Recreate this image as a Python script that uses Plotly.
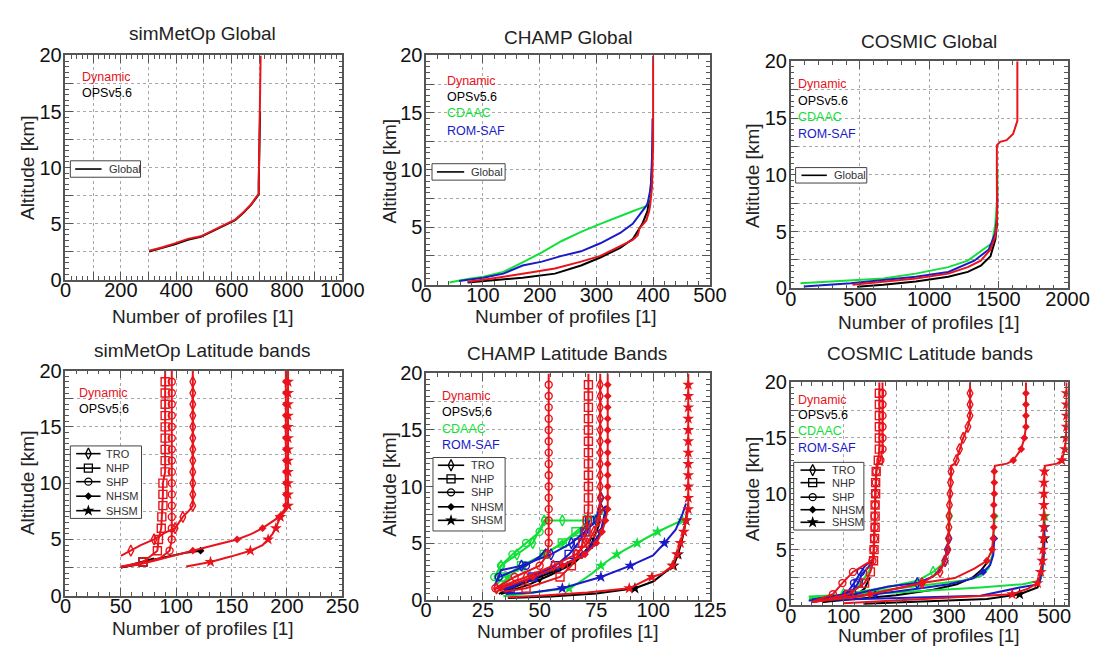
import plotly.graph_objects as go

W, H = 1113, 657
FONT = "Liberation Sans, Arial, Helvetica, sans-serif"
RED, BLACK, GREEN, BLUE = "#e8131b", "#000000", "#12e03a", "#1a1ac8"
AX = "#555555"

# ---------------- Panel 1: simMetOp Global ----------------
p1_red_x = [302, 348, 395, 442, 489, 513, 548, 583, 613, 642, 671, 689, 698, 698, 703, 705]
p1_red_y = [2.58, 2.87, 3.24, 3.64, 3.87, 4.15, 4.56, 5.0, 5.36, 6.0, 6.73, 7.36, 7.65, 8.45, 15.3, 20]
p1_blk_x = [302, 348, 395, 442, 489, 513, 548, 583, 613, 642, 671, 689, 698, 698, 703]
p1_blk_y = [2.5, 2.8, 3.15, 3.55, 3.82, 4.1, 4.5, 4.95, 5.3, 5.95, 6.7, 7.3, 7.6, 8.45, 15.0]

# ---------------- Panel 2: CHAMP Global ----------------
p2_grn_x = [41, 73, 101, 136, 170, 204, 239, 273, 307, 342, 364, 388, 394, 397]
p2_grn_y = [0.17, 0.48, 0.68, 1.1, 1.94, 2.8, 3.8, 4.6, 5.3, 6.0, 6.4, 6.85, 7.6, 9.0]
p2_blu_x = [58, 101, 136, 170, 204, 239, 273, 307, 342, 364, 381, 390, 396, 398, 399]
p2_blu_y = [0.31, 0.59, 0.95, 1.66, 2.0, 2.5, 2.9, 3.6, 4.5, 5.3, 6.4, 7.0, 8.5, 11, 14.5]
p2_blk_x = [73, 113, 170, 227, 273, 307, 342, 364, 381, 390, 395, 398]
p2_blk_y = [0.17, 0.33, 0.6, 0.95, 1.66, 2.36, 3.2, 3.96, 5.3, 6.4, 8.0, 10.0]
p2_red_x = [73, 113, 170, 227, 273, 307, 342, 364, 373, 376, 388, 393, 395, 398, 400, 400]
p2_red_y = [0.25, 0.5, 0.95, 1.4, 2.0, 2.5, 3.35, 3.9, 4.3, 4.9, 5.6, 6.4, 7.0, 8.5, 12, 20]

# ---------------- Panel 3: COSMIC Global ----------------
p3_grn_x = [70, 434, 669, 903, 1138, 1279, 1396, 1455, 1478, 1490, 1494]
p3_grn_y = [0.45, 0.74, 0.88, 1.3, 1.87, 2.44, 3.43, 4.0, 5.7, 7.7, 10.5]
p3_blu_x = [94, 434, 669, 903, 1138, 1326, 1431, 1478, 1490, 1492]
p3_blu_y = [0.17, 0.45, 0.74, 1.02, 1.45, 2.44, 3.43, 4.86, 6.3, 8.0]
p3_blk_x = [480, 669, 903, 1138, 1279, 1373, 1443, 1478, 1490, 1492]
p3_blk_y = [0.15, 0.31, 0.6, 1.02, 1.45, 2.0, 2.84, 4.3, 5.7, 9.0]
p3_red_x = [446, 669, 903, 1138, 1279, 1373, 1443, 1478, 1490, 1489, 1489, 1512, 1559, 1606, 1637, 1637]
p3_red_y = [0.31, 0.6, 0.88, 1.3, 1.87, 2.44, 3.43, 4.57, 6.0, 10, 12.6, 12.9, 13.05, 13.6, 14.75, 20]

# ---------------- Panel 4: simMetOp Latitude bands ----------------
p4_tro_red_x = [50, 59, 68, 80, 90, 99, 106, 112, 115, 115, 115, 115, 115, 115, 115, 115, 115, 115, 115, 115, 115]
p4_tro_red_y = [3.55, 4, 4.5, 5, 5.6, 6, 7, 7.6, 8, 9, 10, 11, 12, 13, 14, 15, 16, 17, 18, 19, 20]
p4_nhp_red_x = [50, 60, 70, 83, 84, 86.5, 87, 88, 88, 88, 90, 90, 90, 90, 90, 90, 90, 90, 90, 90]
p4_nhp_red_y = [2.57, 2.8, 3, 4, 5, 6, 7, 8, 9, 10, 11, 12, 13, 14, 15, 16, 17, 18, 19, 20]
p4_shp_red_x = [50, 70, 85, 94, 96, 96, 96, 96, 96, 96, 96, 96, 96, 96, 96, 96, 96, 96, 96, 96]
p4_shp_red_y = [2.57, 2.9, 3.3, 4, 5, 6, 7, 8, 9, 10, 11, 12, 13, 14, 15, 16, 17, 18, 19, 20]
p4_nhsm_red_x = [50, 65, 80, 95, 115, 135, 155, 168, 178, 186, 193, 198, 199, 199, 199, 199, 199, 199, 199, 199, 199, 199, 199, 199, 199]
p4_nhsm_red_y = [2.55, 2.75, 3.1, 3.5, 4, 4.5, 5, 5.5, 6, 6.5, 7, 7.7, 8, 9, 10, 11, 12, 13, 14, 15, 16, 17, 18, 19, 20]
p4_shsm_red_x = [109, 131, 150, 167, 178, 183, 187, 190, 194, 200, 201, 201, 201, 201, 201, 201, 201, 201, 201, 201, 201, 201, 201]
p4_shsm_red_y = [2.6, 3, 3.5, 4, 4.5, 5, 5.5, 6, 7, 7.7, 8, 9, 10, 11, 12, 13, 14, 15, 16, 17, 18, 19, 20]
p4_nhsm_blk_x = [50, 64, 75, 93, 110, 122]
p4_nhsm_blk_y = [2.5, 2.75, 3.1, 3.5, 3.85, 4]
p4_nhp_blk_x = [50, 62, 70, 80]
p4_nhp_blk_y = [2.5, 2.8, 3.0, 3.3]

# ---------------- Panel 5: CHAMP Latitude Bands ----------------
p5_tro_red_x = [30, 31, 44, 56, 66, 71, 74, 76, 76.7, 76.7, 76.7, 76.7, 76.7, 76.7, 76.7, 76.7, 76.7, 76.7, 76.7, 76.7, 76.7]
p5_tro_red_y = [0.8, 1, 2, 3, 4, 5, 6, 7, 8, 9, 10, 11, 12, 13, 14, 15, 16, 17, 18, 19, 20]
p5_nhp_red_x = [34, 44, 59, 64, 67, 69, 70.5, 71, 71.5, 71.5, 71.5, 71.5, 71.5, 71.5, 71.5, 71.5, 71.5, 71.5, 71.5, 71.5, 71.5]
p5_nhp_red_y = [0.7, 1, 2, 3, 4, 5, 6, 7, 8, 9, 10, 11, 12, 13, 14, 15, 16, 17, 18, 19, 20]
p5_shp_red_x = [30, 30.5, 39, 46, 50, 53.5, 54, 54, 54, 54, 54, 54, 54, 54, 54, 54, 54, 54, 54, 54, 54, 54]
p5_shp_red_y = [0.85, 1, 2, 2.6, 3, 4, 5, 6, 7, 8, 9, 10, 11, 12, 13, 14, 15, 16, 17, 18, 19, 20]
p5_nhsm_red_x = [31, 33, 47, 60, 70, 75, 77.5, 79, 80, 80, 80, 80, 80, 80, 80, 80, 80, 80, 80, 80, 80]
p5_nhsm_red_y = [0.7, 1, 2, 3, 4, 5, 6, 7, 8, 9, 10, 11, 12, 13, 14, 15, 16, 17, 18, 19, 20]
p5_shsm_red_x = [36, 50, 71, 86, 89.5, 99.5, 104, 108.5, 110.5, 112, 113.5, 114.5, 115.5, 115.5, 115.5, 115.5, 115.5, 115.5, 115.5, 115.5, 115.5, 115.5, 115.5, 115.5, 115.5]
p5_shsm_red_y = [0.2, 0.34, 0.63, 0.91, 1, 2, 2.3, 3, 4, 5, 6, 7, 8, 9, 10, 11, 12, 13, 14, 15, 16, 17, 18, 19, 20]
p5_shsm_blk_x = [36, 55, 75, 92, 100, 106, 109, 111, 113, 114.5, 115.5]
p5_shsm_blk_y = [0.15, 0.28, 0.55, 1.0, 1.6, 2.5, 3.0, 4.0, 5.5, 7.0, 8.5]
p5_tro_blk_x = [32, 40, 50, 60, 68, 73, 76, 77]
p5_tro_blk_y = [0.5, 1.2, 2.0, 2.8, 3.8, 5.0, 6.5, 8.0]
p5_nhsm_blk_x = [33, 45, 55, 65, 72, 77, 79.5]
p5_nhsm_blk_y = [0.5, 1.3, 2.2, 3.2, 4.5, 6.0, 8.0]
p5_tro_grn_x = [30, 33, 40, 47, 52, 60, 70, 76, 77]
p5_tro_grn_y = [1.8, 3, 4, 5, 7, 7, 7, 7.5, 9]
p5_shp_grn_x = [30, 33, 38, 44, 50, 52.5, 54]
p5_shp_grn_y = [2.0, 3, 4, 5, 6, 7, 7.2]
p5_nhp_grn_x = [31, 34, 42, 52, 60, 66, 70, 72, 73]
p5_nhp_grn_y = [1.3, 2, 3, 4, 5, 6, 6.6, 7, 7.2]
p5_nhsm_grn_x = [32, 36, 43, 52, 60, 66, 71, 75, 79]
p5_nhsm_grn_y = [1.1, 2, 3, 4, 5, 5.8, 6.4, 7, 8.2]
p5_shsm_grn_x = [34, 45, 58, 63, 68, 73, 77, 84, 93, 102, 110, 113]
p5_shsm_grn_y = [0.3, 0.6, 0.9, 1, 1.6, 2.3, 3, 4, 5, 6, 6.75, 7.0]
p5_tro_blu_x = [31, 33, 42, 55, 64, 70, 75, 77]
p5_tro_blu_y = [1.6, 2.6, 3, 4, 5, 6, 7, 9]
p5_shp_blu_x = [30, 32, 38, 44, 50, 53]
p5_shp_blu_y = [1.2, 2, 2.5, 3, 3.8, 4.5]
p5_nhp_blu_x = [32, 37, 47, 57, 63, 67, 70, 72]
p5_nhp_blu_y = [0.9, 1, 2, 3, 4, 5, 6, 7]
p5_nhsm_blu_x = [32, 35, 48, 60, 69, 74, 77, 79]
p5_nhsm_blu_y = [0.8, 1, 2, 3, 4, 5, 6, 8]
p5_shsm_blu_x = [35, 47, 60, 77, 90, 100, 105, 110, 113, 114.5]
p5_shsm_blu_y = [0.5, 0.62, 1, 2, 3, 3.9, 5, 6.2, 7.6, 8.5]

# ---------------- Panel 6: COSMIC Latitude bands ----------------
p6_nhp_red_x = [45, 110, 140, 151, 157, 158, 159, 160, 160, 160, 161, 161, 162, 163, 166, 168, 168, 168, 168, 168, 168, 168]
p6_nhp_red_y = [0.3, 1, 2, 3, 4, 5, 6, 7, 8, 9, 10, 11, 12, 12.6, 13, 14, 15, 16, 17, 18, 19, 20]
p6_shp_red_x = [40, 80, 98, 118, 142, 155, 157, 158, 159, 159, 160, 160, 161, 162, 165, 170, 174, 174, 174, 174, 174, 174, 174]
p6_shp_red_y = [0.3, 1, 2, 3, 3.7, 4, 5, 6, 7, 8, 9, 10, 11, 12, 12.6, 13, 14, 15, 16, 17, 18, 19, 20]
p6_tro_red_x = [40, 130, 181, 249, 283, 292, 298, 299, 300, 300, 301, 302, 303, 304, 304, 311, 314, 320, 327, 336, 340, 340, 340, 340, 340]
p6_tro_red_y = [0.3, 0.8, 1.3, 2, 3, 4, 5, 6, 7, 8, 9, 10, 11, 12, 12.5, 12.7, 13, 14, 15, 16, 17, 18, 19, 19.5, 20]
p6_nhsm_red_x = [40, 150, 249, 311, 348, 372, 382, 384, 385, 385, 385, 386, 386, 386, 387, 410, 422, 437, 443, 446, 446, 446, 446, 446]
p6_nhsm_red_y = [0.3, 1, 2, 2.45, 3.3, 4, 5, 6, 7, 8, 9, 10, 11, 12, 12.5, 12.7, 13, 14, 15, 16, 17, 18, 19, 20]
p6_shsm_red_x = [100, 225, 330, 420, 450, 468, 474, 477, 478, 479, 480, 480, 480, 480, 480, 481, 482, 505, 514, 520, 522, 523, 523, 523, 523, 523]
p6_shsm_red_y = [0.2, 0.5, 0.8, 1.0, 1.5, 2, 3, 4, 5, 6, 7, 8, 9, 10, 11, 12, 12.5, 12.7, 13, 14, 15, 16, 17, 18, 19, 20]
p6_tro_grn_x = [35, 100, 180, 240, 270, 285, 295, 298, 300, 301]
p6_tro_grn_y = [0.6, 1.0, 1.6, 2.2, 3, 3.6, 4.5, 5.5, 6.5, 8]
p6_tro_blu_x = [40, 120, 185, 240, 270, 285, 293, 297, 300]
p6_tro_blu_y = [0.4, 1.0, 1.7, 2.0, 2.6, 3.3, 4, 5, 6]
p6_nhsm_grn_x = [35, 150, 225, 274, 323, 360, 375, 382, 385, 387]
p6_nhsm_grn_y = [0.55, 1.2, 1.6, 1.9, 2.2, 2.6, 3.3, 4.5, 6.2, 8]
p6_nhsm_blu_x = [40, 160, 240, 300, 345, 365, 378, 384, 386]
p6_nhsm_blu_y = [0.4, 1.0, 1.5, 1.9, 2.4, 3.0, 3.6, 4.5, 6]
p6_nhsm_blk_x = [60, 200, 270, 315, 345, 362, 372]
p6_nhsm_blk_y = [0.3, 0.9, 1.4, 1.9, 2.5, 3.2, 3.8]
p6_shsm_grn_x = [34, 200, 360, 440, 471, 477, 480, 482]
p6_shsm_grn_y = [0.8, 1.15, 1.6, 1.9, 2.2, 2.7, 4.5, 8]
p6_shsm_blu_x = [34, 200, 360, 434, 471, 477, 480, 481]
p6_shsm_blu_y = [0.43, 0.65, 0.87, 1.6, 1.9, 3.3, 4.8, 7]
p6_shsm_blk_x = [138, 372, 434, 468, 474, 480, 481]
p6_shsm_blk_y = [0.14, 0.58, 1.0, 1.6, 2.45, 4.5, 6]
p6_nhp_grn_x = [35, 90, 115, 130, 140, 150, 155, 158]
p6_nhp_grn_y = [0.7, 0.9, 1.2, 1.8, 2.5, 3.2, 3.8, 4.5]
p6_nhp_blu_x = [40, 95, 118, 128, 135, 145, 153, 157]
p6_nhp_blu_y = [0.5, 0.9, 1.4, 2.0, 2.8, 3.3, 3.8, 4.3]
p6_shp_blu_x = [40, 105, 120, 133, 140, 148, 155]
p6_shp_blu_y = [0.5, 1, 2, 3, 3.5, 3.8, 4.1]
p6_shp_blk_x = [60, 120, 140, 150]
p6_shp_blk_y = [0.3, 0.8, 1.5, 2.5]

# ---------------- texts ----------------
titles = ["simMetOp Global", "CHAMP Global", "COSMIC Global",
          "simMetOp Latitude bands", "CHAMP Latitude Bands", "COSMIC Latitude bands"]
xlabel = "Number of profiles [1]"
ylabel = "Altitude [km]"
band_names = ["TRO", "NHP", "SHP", "NHSM", "SHSM"]
band_symbols = ["diamond-tall-open", "square-open", "circle-open", "diamond", "star"]
band_sizes = [8, 8, 7, 6, 9]
SYM = dict(zip(band_names, band_symbols))
SIZ = dict(zip(band_names, band_sizes))

# ---------------- layout geometry (pixels) ----------------
boxes = [(61, 345, 46, 278), (431, 722, 46, 283), (805, 1089, 52, 287),
         (61, 345, 372, 605), (431, 722, 375, 609), (805, 1089, 384, 615)]
xranges = [[0, 1000], [0, 500], [0, 2000], [0, 250], [0, 125], [0, 525]]
xgrid = [100, 100, 500, 50, 25, 100]
xlabstep = [200, 100, 500, 50, 25, 100]
xlabmax = [1000, 500, 2000, 250, 125, 500]
xminor = [20, 20, 100, 10, 5, 20]
title_pos = [(202, 23), (576, 27), (947, 32), (202, 351), (575, 354), (948, 354)]
xlab_pos = [(202, 316), (574, 316), (947, 322), (202, 639), (576, 642), (947, 646)]
ylab_pos = [(22, 162), (393, 166), (766, 170), (22, 488), (394, 490), (766, 494)]

fig = go.Figure()


def ax(k):
    return ("x" if k == 1 else f"x{k}"), ("y" if k == 1 else f"y{k}")


def curve(k, xs, ys, color, band=None, width=2.0):
    xa, ya = ax(k)
    fig.add_trace(go.Scatter(x=xs, y=ys, mode="lines", line=dict(color=color, width=width),
                             xaxis=xa, yaxis=ya, hoverinfo="skip", showlegend=False))
    if band:
        mx = [x for x, y in zip(xs, ys) if float(y).is_integer() and 0 < y < 20]
        my = [y for y in ys if float(y).is_integer() and 0 < y < 20]
        sym = SYM[band]
        opn = sym.endswith("open")
        fig.add_trace(go.Scatter(
            x=mx, y=my, mode="markers", xaxis=xa, yaxis=ya, hoverinfo="skip", showlegend=False,
            marker=dict(symbol=sym, size=SIZ[band], color=color,
                        line=dict(color=color, width=1.4 if opn else 0))))


# panel 1
curve(1, p1_blk_x, p1_blk_y, BLACK)
curve(1, p1_red_x, p1_red_y, RED)
# panel 2
curve(2, p2_blk_x, p2_blk_y, BLACK)
curve(2, p2_grn_x, p2_grn_y, GREEN)
curve(2, p2_blu_x, p2_blu_y, BLUE)
curve(2, p2_red_x, p2_red_y, RED)
# panel 3
curve(3, p3_blk_x, p3_blk_y, BLACK)
curve(3, p3_grn_x, p3_grn_y, GREEN)
curve(3, p3_blu_x, p3_blu_y, BLUE)
curve(3, p3_red_x, p3_red_y, RED)
# panel 4
curve(4, p4_nhsm_blk_x, p4_nhsm_blk_y, BLACK, "NHSM")
curve(4, p4_nhp_blk_x, p4_nhp_blk_y, BLACK, "NHP")
curve(4, p4_tro_red_x, p4_tro_red_y, RED, "TRO")
curve(4, p4_nhp_red_x, p4_nhp_red_y, RED, "NHP")
curve(4, p4_shp_red_x, p4_shp_red_y, RED, "SHP")
curve(4, p4_nhsm_red_x, p4_nhsm_red_y, RED, "NHSM")
curve(4, p4_shsm_red_x, p4_shsm_red_y, RED, "SHSM")
# panel 5
curve(5, p5_shsm_blk_x, p5_shsm_blk_y, BLACK, "SHSM")
curve(5, p5_tro_blk_x, p5_tro_blk_y, BLACK, "TRO")
curve(5, p5_nhsm_blk_x, p5_nhsm_blk_y, BLACK, "NHSM")
curve(5, p5_tro_grn_x, p5_tro_grn_y, GREEN, "TRO")
curve(5, p5_shp_grn_x, p5_shp_grn_y, GREEN, "SHP")
curve(5, p5_nhp_grn_x, p5_nhp_grn_y, GREEN, "NHP")
curve(5, p5_nhsm_grn_x, p5_nhsm_grn_y, GREEN, "NHSM")
curve(5, p5_shsm_grn_x, p5_shsm_grn_y, GREEN, "SHSM")
curve(5, p5_tro_blu_x, p5_tro_blu_y, BLUE, "TRO")
curve(5, p5_shp_blu_x, p5_shp_blu_y, BLUE, "SHP")
curve(5, p5_nhp_blu_x, p5_nhp_blu_y, BLUE, "NHP")
curve(5, p5_nhsm_blu_x, p5_nhsm_blu_y, BLUE, "NHSM")
curve(5, p5_shsm_blu_x, p5_shsm_blu_y, BLUE, "SHSM")
curve(5, p5_tro_red_x, p5_tro_red_y, RED, "TRO")
curve(5, p5_nhp_red_x, p5_nhp_red_y, RED, "NHP")
curve(5, p5_shp_red_x, p5_shp_red_y, RED, "SHP")
curve(5, p5_nhsm_red_x, p5_nhsm_red_y, RED, "NHSM")
curve(5, p5_shsm_red_x, p5_shsm_red_y, RED, "SHSM")
# panel 6
curve(6, p6_shsm_blk_x, p6_shsm_blk_y, BLACK, "SHSM")
curve(6, p6_nhsm_blk_x, p6_nhsm_blk_y, BLACK, "NHSM")
curve(6, p6_shp_blk_x, p6_shp_blk_y, BLACK, "SHP")
curve(6, p6_tro_grn_x, p6_tro_grn_y, GREEN, "TRO")
curve(6, p6_nhsm_grn_x, p6_nhsm_grn_y, GREEN, "NHSM")
curve(6, p6_shsm_grn_x, p6_shsm_grn_y, GREEN, "SHSM")
curve(6, p6_nhp_grn_x, p6_nhp_grn_y, GREEN, "NHP")
curve(6, p6_tro_blu_x, p6_tro_blu_y, BLUE, "TRO")
curve(6, p6_nhsm_blu_x, p6_nhsm_blu_y, BLUE, "NHSM")
curve(6, p6_shsm_blu_x, p6_shsm_blu_y, BLUE, "SHSM")
curve(6, p6_nhp_blu_x, p6_nhp_blu_y, BLUE, "NHP")
curve(6, p6_shp_blu_x, p6_shp_blu_y, BLUE, "SHP")
curve(6, p6_nhp_red_x, p6_nhp_red_y, RED, "NHP")
curve(6, p6_shp_red_x, p6_shp_red_y, RED, "SHP")
curve(6, p6_tro_red_x, p6_tro_red_y, RED, "TRO")
curve(6, p6_nhsm_red_x, p6_nhsm_red_y, RED, "NHSM")
curve(6, p6_shsm_red_x, p6_shsm_red_y, RED, "SHSM")

# ---------------- legends (drawn on a pixel overlay axis) ----------------
OV = 7


def ov_trace(xs, ys, **kw):
    fig.add_trace(go.Scatter(x=xs, y=ys, xaxis=f"x{OV}", yaxis=f"y{OV}", hoverinfo="skip",
                             showlegend=False, cliponaxis=False, **kw))


annotations = []


def legend_box(x0, x1, y0, y1, lx0, lx1, tx, rows):
    ov_trace([x0, x1, x1, x0, x0], [y0, y0, y1, y1, y0], mode="lines", fill="toself",
             fillcolor="white", line=dict(color="#444", width=1))
    for name, yy, band in rows:
        ov_trace([lx0, lx1], [yy, yy], mode="lines", line=dict(color="black", width=1.6))
        if band:
            sym = SYM[band]
            opn = sym.endswith("open")
            ov_trace([(lx0 + lx1) / 2], [yy], mode="markers",
                     marker=dict(symbol=sym, size=SIZ[band], color="black",
                                 line=dict(color="black", width=1.3 if opn else 0)))
        annotations.append(dict(x=tx / W, y=1 - yy / H, xref="paper", yref="paper", text=name,
                                showarrow=False, xanchor="left", yanchor="middle",
                                font=dict(size=11, color="#333", family=FONT)))


legend_box(66, 138, 155, 172, 71, 98, 104, [("Global", 163.5, None)])
legend_box(437, 512, 158, 175, 442, 470, 475, [("Global", 166.5, None)])
legend_box(810, 883, 162, 178, 816, 842, 847, [("Global", 170, None)])
legend_box(66, 139, 450, 525, 72, 97, 101,
           list(zip(band_names, [458, 473, 487, 502, 517], band_names)))
legend_box(438, 512, 462, 538, 443, 470, 475,
           list(zip(band_names, [470, 484, 498, 513, 527], band_names)))
legend_box(808, 880, 467, 537, 815, 840, 845,
           list(zip(band_names, [475, 488, 503, 516, 529], band_names)))

# ---------------- dataset labels ----------------
labels2 = [("Dynamic", RED), ("OPSv5.6", BLACK)]
labels4 = labels2 + [("CDAAC", GREEN), ("ROM-SAF", BLUE)]
label_sets = [
    (76, [68, 85], labels2), (450, [72, 89, 106, 124], labels4), (810, [76, 93, 110, 127], labels4),
    (73, [395, 412], labels2), (445, [398, 415, 432, 449], labels4), (810, [402, 418, 435, 452], labels4)]
for lx, ys, labs in label_sets:
    for yy, (t, c) in zip(ys, labs):
        annotations.append(dict(x=lx / W, y=1 - yy / H, xref="paper", yref="paper", text=t,
                                showarrow=False, xanchor="left", yanchor="middle",
                                font=dict(size=12.5, color=c, family=FONT)))

for k in range(6):
    tx, ty = title_pos[k]
    annotations.append(dict(x=tx / W, y=1 - ty / H, xref="paper", yref="paper", text=titles[k],
                            showarrow=False, xanchor="center", yanchor="middle",
                            font=dict(size=19, color="#222", family=FONT)))
    tx, ty = xlab_pos[k]
    annotations.append(dict(x=tx / W, y=1 - ty / H, xref="paper", yref="paper", text=xlabel,
                            showarrow=False, xanchor="center", yanchor="middle",
                            font=dict(size=19, color="#222", family=FONT)))
    tx, ty = ylab_pos[k]
    annotations.append(dict(x=tx / W, y=1 - ty / H, xref="paper", yref="paper", text=ylabel,
                            showarrow=False, xanchor="center", yanchor="middle", textangle=-90,
                            font=dict(size=19, color="#222", family=FONT)))

# ---------------- axes ----------------
layout = dict(width=W, height=H, margin=dict(l=0, r=0, t=0, b=0), autosize=False,
              paper_bgcolor="white", plot_bgcolor="rgba(0,0,0,0)", showlegend=False,
              font=dict(family=FONT), annotations=annotations)

ytv = [0, 2.5, 5, 7.5, 10, 12.5, 15, 17.5, 20]
ytt = ["0", "", "5", "", "10", "", "15", "", "20"]
for k in range(6):
    x0, x1, y0, y1 = boxes[k]
    n = k + 1
    xk = "xaxis" if n == 1 else f"xaxis{n}"
    yk = "yaxis" if n == 1 else f"yaxis{n}"
    xa, ya = ax(n)
    lo, hi = xranges[k]
    tv, tt = [], []
    v = 0
    while v <= hi + 1e-9:
        tv.append(v)
        tt.append(str(v) if (v % xlabstep[k] == 0 and v <= xlabmax[k]) else "")
        v += xgrid[k]
    common = dict(ticks="inside", ticklen=8, tickwidth=1, tickcolor=AX, showline=True,
                  linecolor=AX, linewidth=1.5, mirror="allticks", showgrid=True,
                  gridcolor="#a8a8a8", griddash="dot", gridwidth=1, zeroline=False,
                  tickfont=dict(size=20, family=FONT, color="#111"), fixedrange=True)
    layout[xk] = dict(domain=[x0 / W, x1 / W], range=[lo, hi], anchor=ya, tickmode="array",
                      tickvals=tv, ticktext=tt, ticklabelstandoff=-8,
                      minor=dict(tickmode="linear", tick0=0, dtick=xminor[k], ticks="inside",
                                 ticklen=4, tickcolor=AX, showgrid=False), **common)
    layout[yk] = dict(domain=[1 - y1 / H, 1 - y0 / H], range=[0, 20], anchor=xa, tickmode="array",
                      tickvals=ytv, ticktext=ytt, ticklabelstandoff=-2,
                      minor=dict(tickmode="linear", tick0=0, dtick=0.5, ticks="inside",
                                 ticklen=4, tickcolor=AX, showgrid=False), **common)

layout[f"xaxis{OV}"] = dict(domain=[0, 1], range=[0, W], visible=False, fixedrange=True, anchor=f"y{OV}")
layout[f"yaxis{OV}"] = dict(domain=[0, 1], range=[H, 0], visible=False, fixedrange=True, anchor=f"x{OV}")

fig.update_layout(**layout)
fig.write_html("out.html")
